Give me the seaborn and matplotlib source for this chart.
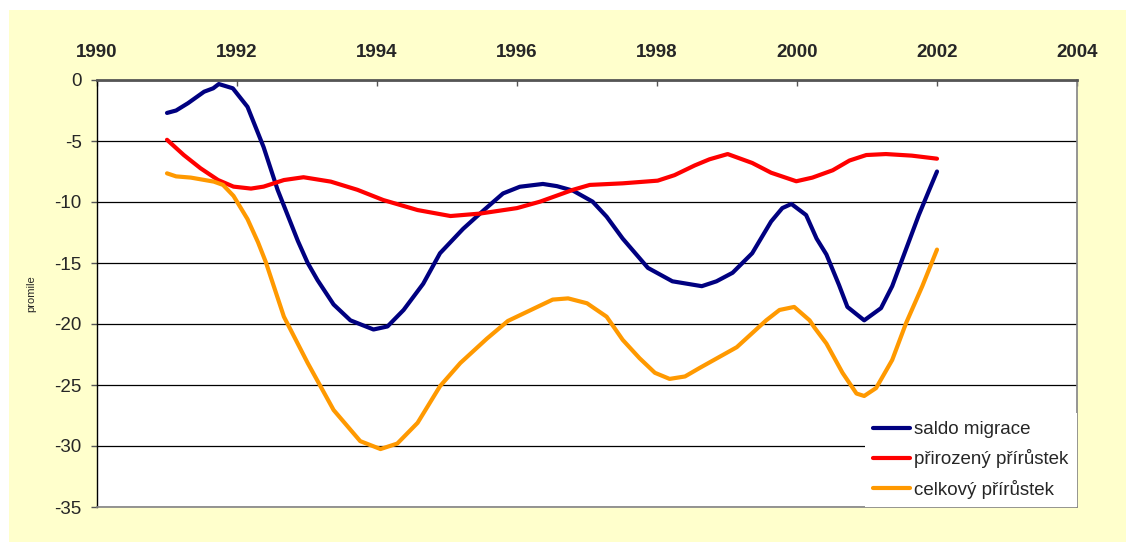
import pandas as pd
import matplotlib.pyplot as plt
import seaborn as sns
from matplotlib.patches import Rectangle

# data (year, promile)
saldo_x = [1991.00, 1991.13, 1991.30, 1991.53, 1991.66, 1991.74, 1991.94, 1992.15, 1992.38,
           1992.58, 1992.77, 1992.87, 1993.01, 1993.15, 1993.38, 1993.62, 1993.95, 1994.15,
           1994.38, 1994.66, 1994.90, 1995.23, 1995.52, 1995.80, 1996.04, 1996.37, 1996.57,
           1996.80, 1997.08, 1997.28, 1997.51, 1997.87, 1998.22, 1998.64, 1998.85, 1999.08,
           1999.36, 1999.63, 1999.79, 1999.92, 2000.13, 2000.28, 2000.42, 2000.60, 2000.72,
           2000.96, 2001.20, 2001.36, 2001.50, 2001.74, 2001.89, 2002.00]
saldo_y = [-2.7, -2.5, -1.9, -0.96, -0.68, -0.33, -0.68, -2.2, -5.5,
           -9.0, -11.75, -13.2, -15.0, -16.4, -18.4, -19.7, -20.45, -20.2,
           -18.85, -16.7, -14.2, -12.2, -10.7, -9.3, -8.75, -8.52, -8.7,
           -9.07, -9.97, -11.2, -13.0, -15.4, -16.5, -16.9, -16.5, -15.8,
           -14.2, -11.6, -10.5, -10.16, -11.07, -13.0, -14.3, -16.8, -18.6,
           -19.7, -18.7, -16.9, -14.75, -11.07, -9.0, -7.5]

prir_x = [1991.00, 1991.24, 1991.48, 1991.73, 1991.95, 1992.20, 1992.38, 1992.67, 1992.95,
          1993.34, 1993.72, 1994.09, 1994.58, 1995.05, 1995.47, 1996.00, 1996.33, 1996.80,
          1997.04, 1997.51, 1998.01, 1998.25, 1998.54, 1998.75, 1999.01, 1999.36, 1999.63,
          1999.99, 2000.22, 2000.51, 2000.75, 2000.99, 2001.27, 2001.64, 2002.00]
prir_y = [-4.9, -6.15, -7.24, -8.2, -8.74, -8.9, -8.74, -8.2, -7.97,
          -8.33, -9.0, -9.84, -10.66, -11.15, -10.95, -10.5, -9.97, -9.0,
          -8.6, -8.47, -8.25, -7.8, -7.0, -6.5, -6.07, -6.8, -7.6,
          -8.3, -8.0, -7.4, -6.6, -6.15, -6.07, -6.2, -6.45]

celk_x = [1991.00, 1991.13, 1991.34, 1991.67, 1991.80, 1991.95, 1992.15, 1992.30, 1992.41,
          1992.67, 1993.01, 1993.38, 1993.76, 1994.05, 1994.29, 1994.58, 1994.90, 1995.19,
          1995.57, 1995.87, 1996.29, 1996.51, 1996.73, 1997.00, 1997.28, 1997.51, 1997.75,
          1997.97, 1998.18, 1998.40, 1998.61, 1999.14, 1999.56, 1999.75, 1999.96, 2000.18,
          2000.25, 2000.42, 2000.65, 2000.85, 2000.96, 2001.13, 2001.36, 2001.56, 2001.79,
          2002.00]
celk_y = [-7.65, -7.9, -8.0, -8.33, -8.6, -9.5, -11.4, -13.3, -14.9,
          -19.4, -23.2, -27.05, -29.6, -30.25, -29.8, -28.1, -25.1, -23.2,
          -21.2, -19.75, -18.6, -18.0, -17.9, -18.3, -19.4, -21.3, -22.8,
          -24.0, -24.5, -24.3, -23.6, -21.9, -19.7, -18.85, -18.6, -19.7,
          -20.3, -21.6, -24.0, -25.7, -25.9, -25.25, -22.95, -19.9, -16.9,
          -13.9]

labels = ["saldo migrace", "přirozený přírůstek", "celkový přírůstek"]
colors = ["#000080", "#FF0000", "#FF9900"]
x_ticks = [1990, 1992, 1994, 1996, 1998, 2000, 2002, 2004]
y_ticks = [0, -5, -10, -15, -20, -25, -30, -35]

sns.set_theme(style="white")
plt.rcParams["font.family"] = ["Liberation Sans", "DejaVu Sans"]
plt.rcParams["axes.unicode_minus"] = False

W, H = 1126, 542
fig = plt.figure(figsize=(W / 100, H / 100), dpi=100, facecolor="white")
fig.patches.append(Rectangle((9 / W, 0), 1, (H - 10) / H, transform=fig.transFigure,
                             facecolor="#FFFFCC", edgecolor="none", zorder=-10))
ax = fig.add_axes([97 / W, 1 - 507 / H, (1077 - 97) / W, (507 - 80) / H])
ax.set_zorder(2)
ax.set_facecolor("white")

series = [(saldo_x, saldo_y), (prir_x, prir_y), (celk_x, celk_y)]
for (xs, ys), lab, col in zip(series, labels, colors):
    df = pd.DataFrame({"rok": xs, "hodnota": ys})
    sns.lineplot(data=df, x="rok", y="hodnota", ax=ax, color=col, lw=3.0,
                 label=lab, estimator=None, sort=False,
                 solid_joinstyle="round", solid_capstyle="round")

ax.set_xlim(1990, 2004)
ax.set_ylim(-35, 0)
ax.set_xticks(x_ticks)
ax.set_yticks(y_ticks)
ax.tick_params(axis="x", top=True, bottom=False, labeltop=True, labelbottom=False,
               direction="in", length=4.5, width=1, color="#555555", pad=14,
               labelsize=13.5)
for t in ax.get_xticklabels():
    t.set_fontweight("bold")
ax.tick_params(axis="y", left=True, direction="out", length=4, width=1,
               color="#555555", pad=7, labelsize=13.5)
ax.set_xlabel("")
ax.set_ylabel("promile", fontsize=8, labelpad=13)
ax.yaxis.grid(True, color="black", lw=0.9)
ax.xaxis.grid(False)

ax.spines["top"].set_color("#555555")
ax.spines["top"].set_linewidth(2)
ax.spines["left"].set_color("black")
ax.spines["left"].set_linewidth(1)
ax.spines["right"].set_color("#888888")
ax.spines["bottom"].set_color("#888888")

leg = ax.legend(loc="lower right", bbox_to_anchor=(1, 0), borderaxespad=0,
                fontsize=13.5, frameon=True, fancybox=False, framealpha=1,
                facecolor="white", edgecolor="none", handlelength=2.0,
                handletextpad=0.2, labelspacing=0.6, borderpad=0.45)
for h in leg.get_lines():
    h.set_linewidth(3.0)

fig.savefig("out.png", dpi=100, facecolor=fig.get_facecolor())
